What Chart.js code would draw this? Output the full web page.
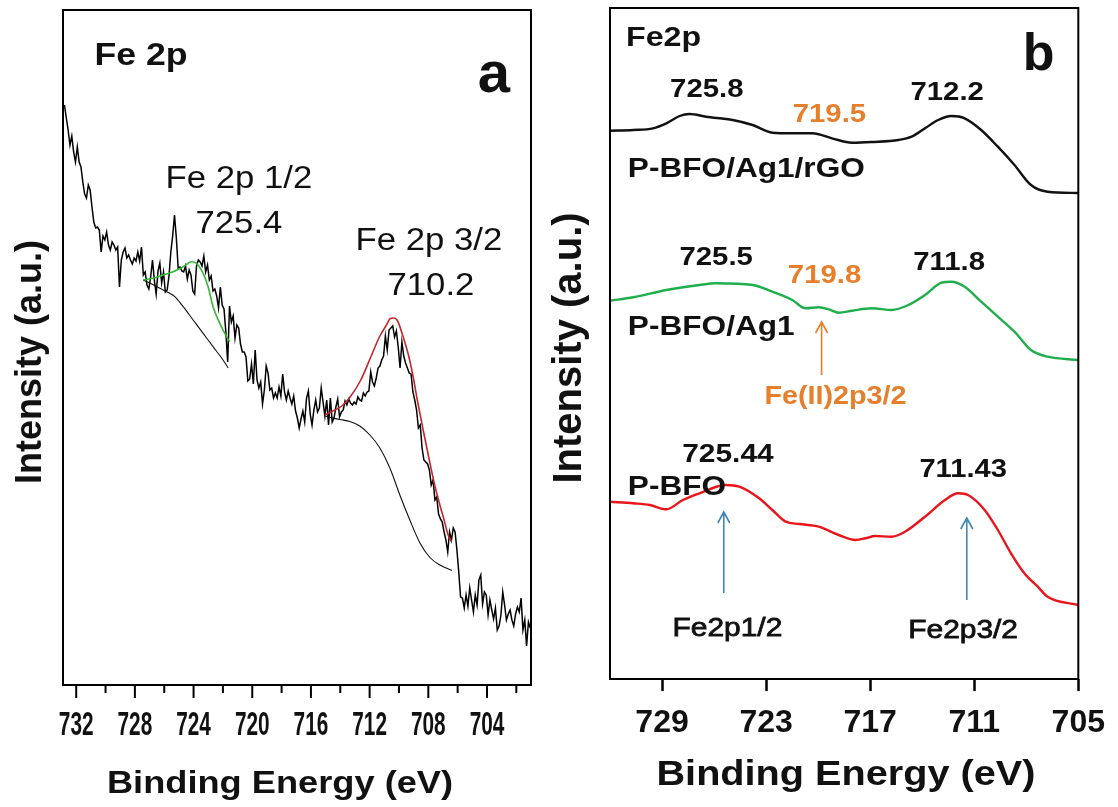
<!DOCTYPE html>
<html>
<head>
<meta charset="utf-8">
<title>Fe 2p XPS</title>
<script src="https://cdn.jsdelivr.net/npm/chart.js@4.4.1/dist/chart.umd.min.js"></script>
<style>
  html, body { margin: 0; padding: 0; background: #fff; }
  #wrap { position: relative; width: 1118px; height: 807px; }
  #chartA { position: absolute; left: 0; top: 0; }
  #chartB { position: absolute; left: 540px; top: 0; }
</style>
</head>
<body>
<div id="wrap">
  <canvas id="chartA" width="540" height="807"></canvas>
  <canvas id="chartB" width="578" height="807"></canvas>
</div>
<script>
const FONT = '"Liberation Sans", Arial, sans-serif';
const ORANGE = '#e67f2c';
const BLUE = '#3d86b8';

// ---- panel a: raw Fe 2p scan, 732.8 eV downwards in 0.125 eV steps ----
const scanStart = 732.8;
const scanStep = 0.125;
const scanCounts = [
  580, 567, 555, 540, 549, 533, 523, 538, 523, 518, 503, 491, 487, 500, 495, 478, 463, 457, 458, 455,
  433, 449, 445, 453, 440, 435, 443, 440, 435, 438, 398, 425, 433, 437, 427, 430, 425, 421, 427, 424,
  433, 424, 438, 410, 413, 400, 396, 408, 425, 405, 391, 414, 422, 402, 413, 393, 395, 409, 433, 449,
  470, 447, 417, 418, 414, 413, 419, 406, 415, 410, 394, 391, 419, 425, 423, 419, 429, 413, 420, 405,
  409, 394, 396, 389, 377, 398, 380, 376, 353, 323, 379, 363, 369, 347, 360, 357, 341, 333, 333, 328,
  304, 306, 321, 301, 335, 305, 297, 303, 281, 295, 319, 312, 295, 297, 287, 292, 287, 298, 289, 311,
  293, 285, 294, 287, 281, 289, 274, 267, 257, 266, 274, 263, 287, 294, 271, 260, 275, 285, 273, 277,
  297, 283, 269, 285, 260, 287, 263, 267, 278, 286, 268, 273, 275, 284, 280, 286, 282, 280, 283, 281,
  288, 285, 284, 292, 289, 293, 294, 313, 303, 299, 307, 317, 319, 325, 329, 349, 335, 355, 357, 359,
  348, 354, 338, 317, 343, 329, 322, 317, 312, 311, 293, 285, 275, 257, 260, 237, 225, 223, 221, 215,
  200, 205, 185, 188, 171, 166, 163, 153, 145, 133, 153, 145, 157, 153, 135, 113, 88, 87, 77, 90,
  79, 97, 85, 73, 90, 80, 105, 110, 81, 93, 90, 70, 85, 75, 66, 77, 55, 59, 70, 93,
  80, 65, 71, 75, 65, 59, 71, 78, 73, 87, 55, 65, 39, 63, 57
];

// Fe 2p1/2 envelope and its background
const fit12Energy = [727.44, 726.76, 726.08, 725.39, 724.71, 724.14, 723.80, 723.35, 723.01, 722.67, 722.21, 721.75, 721.53];
const fit12Counts = [405, 406.7, 410, 413.3, 418.3, 423.3, 421.7, 411.7, 398.3, 378.3, 361.7, 348.3, 343.3];
const bg12Energy = [727.44, 726.98, 726.30, 725.62, 725.28, 724.71, 724.03, 723.35, 722.67, 721.99, 721.64];
const bg12Counts = [405, 402, 396.7, 391.7, 388.3, 378.3, 365, 351.7, 338.3, 325, 317];

// Fe 2p3/2 envelope and its background
const fit32Energy = [715.05, 714.51, 713.89, 713.28, 712.60, 711.95, 711.30, 710.85, 710.59, 710.35, 710.11,
  709.71, 709.32, 709.03, 708.75, 708.35, 707.96, 707.55, 707.21, 706.94, 706.65, 706.41];
const fit32Counts = [270, 274, 279, 289, 305, 327, 349, 360, 366.5, 367, 364.5,
  348, 328, 308, 285, 255, 227, 199, 180, 166, 150, 143.5];
const bg32Energy = [715.05, 714.03, 713.35, 712.67, 711.98, 711.30, 710.62, 709.94, 709.26, 708.57, 707.89, 707.21, 706.39];
const bg32Counts = [269, 265.5, 263.5, 259, 250, 237, 217, 190, 165, 142, 127.5, 120, 114.5];

const aMajorTicks = [732, 728, 724, 720, 716, 712, 708, 704];
const aMinorTicks = [730, 726, 722, 718, 714, 710, 706, 702];

// ---- panel b: stacked Fe 2p spectra ----
const rgoEnergy = [732, 730.66, 729.52, 728.75, 727.99, 727.41, 726.46, 724.93, 723.78, 722.64, 721.49, 720.34, 719.2,
  718.05, 716.9, 715.37, 714.61, 713.84, 713.08, 712.32, 711.55, 710.6, 709.64, 708.68, 707.73, 706.77, 705];
const rgoCounts = [548.3, 549, 550.7, 555.7, 563, 565, 562.3, 559, 554, 546.3, 545.7, 545.7, 540.7,
  536.3, 537, 539, 542.3, 550.7, 559, 563, 560.7, 549, 532.3, 514, 494, 487.3, 486];

const ag1Energy = [732, 730.66, 728.75, 726.84, 725.88, 723.78, 722.64, 721.49, 720.72, 719.96, 719.39, 718.81, 718.05,
  716.9, 715.76, 714.8, 713.84, 712.89, 712.32, 711.55, 710.6, 709.64, 708.68, 707.73, 706.77, 705];
const ag1Counts = [378.3, 381.7, 389, 394, 395.7, 394, 387.3, 379, 370.7, 371.7, 369.7, 366.3, 368.3,
  370.7, 369, 374, 384, 396.3, 397.3, 392.3, 377.3, 362.3, 347.3, 329, 322.3, 319];

const bfoEnergy = [732, 730.66, 729.7, 728.75, 727.8, 726.84, 725.31, 724.55, 723.4, 722.64, 721.87, 721.1, 719.96, 718.81,
  717.85, 717.28, 716.71, 715.76, 714.99, 713.84, 712.69, 711.93, 711.36, 710.4, 709.64, 708.88, 708.11, 707.34, 706.77, 705];
const bfoCounts = [177.3, 175.7, 174, 169.7, 179, 185.7, 194, 192.3, 180.7, 169, 157.3, 155, 152.3, 144,
  139, 140.7, 143, 142.3, 147.3, 162.3, 179, 185.7, 184, 169, 149, 125.7, 105.7, 92.3, 82.3, 74];

const bTicks = [729, 723, 717, 711, 705];

function pairs(xs, ys) {
  return xs.map((x, i) => ({ x: x, y: ys[i] }));
}

const scanPoints = scanCounts.map((c, i) => ({ x: scanStart - i * scanStep, y: c }));

function drawText(ctx, text, x, y, o) {
  ctx.save();
  ctx.font = (o.weight || 'normal') + ' ' + o.size + 'px ' + FONT;
  ctx.fillStyle = o.color || '#111';
  ctx.textAlign = o.align || 'center';
  ctx.textBaseline = 'alphabetic';
  ctx.translate(x, y);
  if (o.rotate) ctx.rotate(o.rotate);
  ctx.scale(o.sx || 1, 1);
  ctx.fillText(text, 0, 0);
  if (o.heavy) {
    // slightly heavier than regular weight
    ctx.strokeStyle = ctx.fillStyle;
    ctx.lineWidth = o.heavy;
    ctx.strokeText(text, 0, 0);
  }
  ctx.restore();
}

function drawFrame(chart) {
  const { ctx, chartArea: ca } = chart;
  ctx.save();
  ctx.strokeStyle = '#000';
  ctx.lineWidth = 2;
  ctx.strokeRect(ca.left, ca.top, ca.right - ca.left, ca.bottom - ca.top);
  ctx.restore();
}

function drawNotes(chart, notes) {
  const { ctx, scales: { x, y } } = chart;
  notes.forEach(n => drawText(ctx, n.text, x.getPixelForValue(n.e), y.getPixelForValue(n.i), n));
}

function drawArrow(chart, a) {
  const { ctx, scales: { x, y } } = chart;
  const px = x.getPixelForValue(a.e);
  const tip = y.getPixelForValue(a.tip);
  const end = y.getPixelForValue(a.end);
  ctx.save();
  ctx.strokeStyle = a.color;
  ctx.lineWidth = 1.6;
  ctx.beginPath();
  ctx.moveTo(px, end);
  ctx.lineTo(px, tip);
  ctx.moveTo(px - 6, tip + 11);
  ctx.lineTo(px, tip);
  ctx.lineTo(px + 6, tip + 11);
  ctx.stroke();
  ctx.restore();
}

const notesA = [
  { text: 'Fe 2p', e: 730.76, i: 620, size: 31, weight: 'bold', align: 'left', sx: 1.15 },
  { text: 'a', e: 703.53, i: 593, size: 58, weight: 'bold' },
  { text: 'Fe 2p 1/2', e: 720.91, i: 497, size: 31, sx: 1.12 },
  { text: '725.4', e: 720.91, i: 452, size: 31, sx: 1.12 },
  { text: 'Fe 2p 3/2', e: 707.96, i: 435, size: 31, sx: 1.12 },
  { text: '710.2', e: 707.82, i: 390, size: 31, sx: 1.12 }
];

const notesB = [
  { text: 'Fe2p', e: 731.08, i: 633, size: 28, weight: 'bold', align: 'left', sx: 1.15 },
  { text: 'b', e: 707.29, i: 609, size: 52, weight: 'bold' },
  { text: '725.8', e: 726.42, i: 582, size: 25.5, weight: 'bold', sx: 1.15 },
  { text: '719.5', e: 719.35, i: 557, size: 25.5, weight: 'bold', sx: 1.15, color: ORANGE },
  { text: '712.2', e: 712.56, i: 579, size: 25.5, weight: 'bold', sx: 1.15 },
  { text: 'P-BFO/Ag1/rGO', e: 730.97, i: 502, size: 27, weight: 'bold', align: 'left', sx: 1.17 },
  { text: '725.5', e: 725.88, i: 414, size: 25.5, weight: 'bold', sx: 1.15 },
  { text: '719.8', e: 719.63, i: 396, size: 25.5, weight: 'bold', sx: 1.15, color: ORANGE },
  { text: '711.8', e: 712.45, i: 409, size: 25.5, weight: 'bold', sx: 1.15 },
  { text: 'P-BFO/Ag1', e: 730.97, i: 344, size: 27, weight: 'bold', align: 'left', sx: 1.17 },
  { text: 'Fe(II)2p3/2', e: 719.0, i: 275, size: 25, weight: 'bold', sx: 1.15, color: ORANGE },
  { text: '725.44', e: 725.2, i: 217, size: 26, weight: 'bold', sx: 1.15 },
  { text: 'P-BFO', e: 730.97, i: 184, size: 27, weight: 'bold', align: 'left', sx: 1.17 },
  { text: '711.43', e: 711.64, i: 202, size: 26, weight: 'bold', sx: 1.12 },
  { text: 'Fe2p1/2', e: 725.23, i: 43, size: 26, sx: 1.15, heavy: 0.8 },
  { text: 'Fe2p3/2', e: 711.64, i: 41, size: 26, sx: 1.15, heavy: 0.8 }
];

const arrowsB = [
  { e: 719.8, tip: 357, end: 304, color: ORANGE },
  { e: 725.44, tip: 167, end: 86, color: BLUE },
  { e: 711.43, tip: 161, end: 79, color: BLUE }
];

const panelA = {
  id: 'panelA',
  afterDraw(chart) {
    const { ctx, chartArea: ca, scales: { x } } = chart;
    drawFrame(chart);
    // major / minor ticks below the axis, condensed tick labels
    ctx.save();
    ctx.strokeStyle = '#000';
    ctx.lineWidth = 2;
    x.ticks.forEach(t => {
      const px = x.getPixelForValue(t.value);
      const major = aMajorTicks.includes(t.value);
      ctx.beginPath();
      ctx.moveTo(px, ca.bottom);
      ctx.lineTo(px, ca.bottom + (major ? 13 : 8));
      ctx.stroke();
      if (major) drawText(ctx, String(t.value), px, 735, { size: 33, weight: 'bold', sx: 0.63 });
    });
    ctx.restore();
    drawNotes(chart, notesA);
    drawText(ctx, 'Binding Energy (eV)', 280, 793, { size: 31.5, weight: 'bold', sx: 1.15 });
    drawText(ctx, 'Intensity (a.u.)', 41, 362, { size: 36, weight: 'bold', rotate: -Math.PI / 2 });
  }
};

const panelB = {
  id: 'panelB',
  afterDraw(chart) {
    const { ctx } = chart;
    drawFrame(chart);
    arrowsB.forEach(a => drawArrow(chart, a));
    drawNotes(chart, notesB);
    drawText(ctx, 'Binding Energy (eV)', 306, 785, { size: 34.8, weight: 'bold', sx: 1.14 });
    drawText(ctx, 'Intensity (a.u.)', 41, 348, { size: 40, weight: 'bold', rotate: -Math.PI / 2 });
  }
};

const lineDefaults = { pointRadius: 0, fill: false, cubicInterpolationMode: 'monotone' };

new Chart(document.getElementById('chartA'), {
  type: 'line',
  data: {
    datasets: [
      Object.assign({ data: pairs(fit32Energy, fit32Counts), borderColor: '#c2272d', borderWidth: 1.6 }, lineDefaults),
      Object.assign({ data: pairs(fit12Energy, fit12Counts), borderColor: '#35b835', borderWidth: 1.6 }, lineDefaults),
      Object.assign({ data: pairs(bg32Energy, bg32Counts), borderColor: '#111', borderWidth: 1.1 }, lineDefaults),
      Object.assign({ data: pairs(bg12Energy, bg12Counts), borderColor: '#111', borderWidth: 1.1 }, lineDefaults),
      { data: scanPoints, borderColor: '#000', borderWidth: 1.5, pointRadius: 0, fill: false, tension: 0 }
    ]
  },
  options: {
    responsive: false,
    animation: false,
    layout: { padding: { top: 10, right: 9, left: 0, bottom: 0 } },
    plugins: { legend: { display: false }, tooltip: { enabled: false } },
    scales: {
      x: {
        type: 'linear', reverse: true, min: 701, max: 732.9,
        afterBuildTicks: s => { s.ticks = aMajorTicks.concat(aMinorTicks).map(v => ({ value: v })); },
        afterFit: s => { s.height = 122; },
        ticks: { display: false },
        grid: { display: false },
        border: { display: false }
      },
      y: {
        min: 0, max: 675,
        afterFit: s => { s.width = 63; },
        ticks: { display: false },
        grid: { display: false },
        border: { display: false }
      }
    }
  },
  plugins: [panelA]
});

new Chart(document.getElementById('chartB'), {
  type: 'line',
  data: {
    datasets: [
      Object.assign({ data: pairs(rgoEnergy, rgoCounts), borderColor: '#111', borderWidth: 2.4 }, lineDefaults),
      Object.assign({ data: pairs(ag1Energy, ag1Counts), borderColor: '#1fae4c', borderWidth: 2.4 }, lineDefaults),
      Object.assign({ data: pairs(bfoEnergy, bfoCounts), borderColor: '#e8151c', borderWidth: 2.4 }, lineDefaults)
    ]
  },
  options: {
    responsive: false,
    animation: false,
    layout: { padding: { top: 8, right: 37, left: 0, bottom: 0 } },
    plugins: { legend: { display: false }, tooltip: { enabled: false } },
    scales: {
      x: {
        type: 'linear', reverse: true, min: 705, max: 732,
        afterBuildTicks: s => { s.ticks = bTicks.map(v => ({ value: v })); },
        afterFit: s => { s.height = 128; },
        ticks: {
          color: '#111', padding: 13, maxRotation: 0, autoSkip: false,
          font: { family: FONT, size: 32, weight: 'bold' },
          callback: v => String(v)
        },
        grid: { drawOnChartArea: false, drawTicks: true, tickLength: 12, tickWidth: 2.5, tickColor: '#000' },
        border: { display: false }
      },
      y: {
        min: 0, max: 671,
        afterFit: s => { s.width = 70; },
        ticks: { display: false },
        grid: { display: false },
        border: { display: false }
      }
    }
  },
  plugins: [panelB]
});
</script>
</body>
</html>
